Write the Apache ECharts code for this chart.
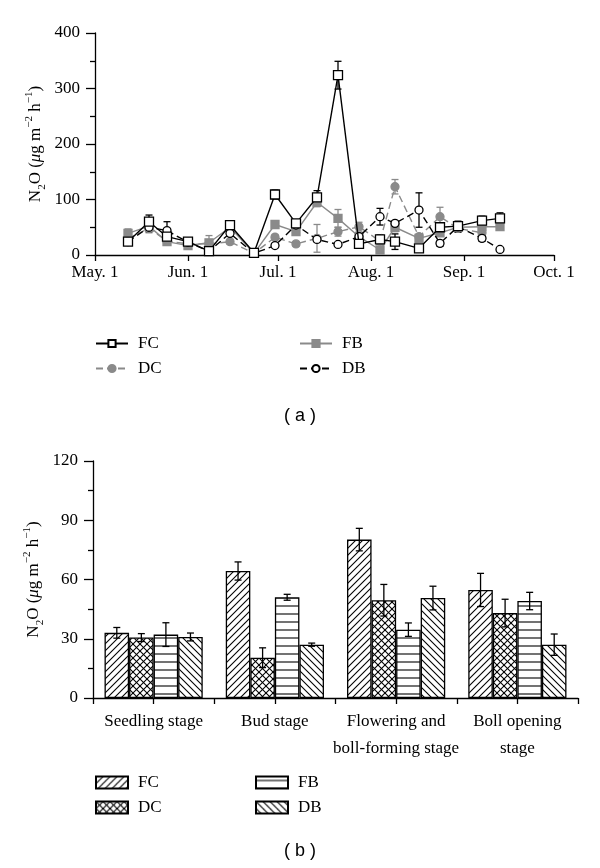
<!DOCTYPE html>
<html><head><meta charset="utf-8">
<script src="https://cdn.jsdelivr.net/npm/echarts@6/dist/echarts.min.js"></script>
<style>html,body{margin:0;padding:0;background:#fff;}#a{position:absolute;left:0;top:0;width:600px;height:434px;}#b{position:absolute;left:0;top:434px;width:600px;height:434px;}</style>
</head><body><div id="a"></div><div id="b"></div>
<script>
// ---------- data (a) ----------
const dates = ['2012-05-12','2012-05-19','2012-05-25','2012-06-01','2012-06-08','2012-06-15','2012-06-23','2012-06-30','2012-07-07','2012-07-14','2012-07-21','2012-07-28','2012-08-04','2012-08-09','2012-08-17','2012-08-24','2012-08-30','2012-09-07','2012-09-13'];
const FC = [24,60,33,24,7,54,4,109,57,104,324,20,28,24,12,50,52,62,66];
const FC_err = [5,12,6,3,3,5,2,8,5,12,25,5,8,14,4,6,8,8,10];
const FB = [39,52,24,17,22,50,3,55,42,95,66,33,9,50,30,40,50,51,51];
const FB_err = [8,5,4,3,5,5,2,5,5,8,16,5,5,8,4,6,5,4,4];
const DC = [30,48,25,20,20,24,3,32,20,30,42,51,25,123,33,69,48,40,null];
const DC_err = [6,8,5,4,15,4,2,5,4,25,8,8,5,13,5,17,6,5,null];
const DB = [24,50,44,23,7,39,3,17,54,28,19,33,69,57,81,21,51,30,10];
const DB_err = [4,8,16,4,3,5,2,3,5,4,3,4,15,5,31,5,10,5,3];
const monthTicks = ['2012-05-01','2012-06-01','2012-07-01','2012-08-01','2012-09-01','2012-10-01'];
const monthLabels = ['May. 1','Jun. 1','Jul. 1','Aug. 1','Sep. 1','Oct. 1'];
const yTicksA = [0,100,200,300,400];
// ---------- data (b) ----------
const stages = ['Seedling stage','Bud stage','Flowering and\nboll-forming stage','Boll opening\nstage'];
const bFC = [33,64.3,80.2,54.7];
const bFC_err = [2.7,4.6,5.7,8.4];
const bDC = [30.6,20.4,49.5,43];
const bDC_err = [2,5,8,7];
const bFB = [32.1,51,34.6,49.1];
const bFB_err = [6,1.5,3.4,4.4];
const bDB = [30.9,27,50.6,27];
const bDB_err = [2,0.8,6,5.4];
const yTicksB = [0,30,60,90,120];

const SERIF = "'Liberation Serif','DejaVu Serif',serif";
const SANS = "'Liberation Sans','DejaVu Sans',sans-serif";
const GRAY = '#8a8a8a';
// day number counted from the first month tick (May 1)
function dayOf(d){const p=d.split('-');const t=Date.UTC(+p[0],+p[1]-1,+p[2]);const q=monthTicks[0].split('-');return Math.round((t-Date.UTC(+q[0],+q[1]-1,+q[2]))/86400000);}
const tickDays = monthTicks.map(dayOf);

const yName = '{t|N}{sub|2}{t|O (}{i|μ}{t|g m}{sup|−2}{t| h}{sup|−1}{t|)}';
const yNameRich = {
  t:{fontFamily:SERIF,fontSize:17,color:'#000',lineHeight:24},
  i:{fontFamily:SERIF,fontSize:17,fontStyle:'italic',color:'#000',lineHeight:24},
  sub:{fontFamily:SERIF,fontSize:11,color:'#000',lineHeight:18,verticalAlign:'bottom'},
  sup:{fontFamily:SERIF,fontSize:11,color:'#000',lineHeight:14,verticalAlign:'top'}
};

// ---------- chart (a) ----------
const chA = echarts.init(document.getElementById('a'),null,{renderer:'canvas'});
function errSeriesX(name, vals, errs, color){
  const data = dates.map((d,i)=> vals[i]==null?null:[dayOf(d), vals[i], errs[i]]).filter(x=>x);
  return {
    type:'custom', name:name, data:data, z:1,
    encode:{x:0,y:[1]},
    renderItem:function(params, api){
      const x = api.value(0), v = api.value(1), e = api.value(2);
      const top = api.coord([x, v+e]), bot = api.coord([x, Math.max(0,v-e)]);
      const w = 3.5;
      const st = {stroke:color, lineWidth:1.3};
      return {type:'group', children:[
        {type:'line', shape:{x1:top[0],y1:top[1],x2:bot[0],y2:bot[1]}, style:st},
        {type:'line', shape:{x1:top[0]-w,y1:top[1],x2:top[0]+w,y2:top[1]}, style:st},
        {type:'line', shape:{x1:bot[0]-w,y1:bot[1],x2:bot[0]+w,y2:bot[1]}, style:st}
      ]};
    }
  };
}
function lineSeries(name, vals, color, dashed, symbol, fill, size, z){
  return {
    type:'line', name:name, z:z,
    data: dates.map((d,i)=> vals[i]==null?null:[dayOf(d), vals[i]]).filter(x=>x),
    symbol:symbol, symbolSize:size, showSymbol:true,
    lineStyle:{color:color, width:1.4, type: dashed?[7,4]:'solid'},
    itemStyle:{color:fill, borderColor:color, borderWidth:1.3},
    emphasis:{disabled:true}
  };
}
const legendText = {fontFamily:SERIF, fontSize:17, color:'#000', padding:[0,0,0,5]};
chA.setOption({
  animation:false,
  grid:{left:95, right:46, top:33, bottom:179, containLabel:false},
  xAxis:{type:'value', min:tickDays[0], max:tickDays[tickDays.length-1],
    axisLine:{lineStyle:{color:'#000',width:1.3}},
    axisTick:{show:true, inside:false, length:6, lineStyle:{color:'#000',width:1.3}, customValues: tickDays},
    axisLabel:{fontFamily:SERIF, fontSize:17, color:'#000', margin:9, customValues: tickDays,
      formatter:function(v){const i = tickDays.indexOf(v); return i>=0?monthLabels[i]:'';}},
    splitLine:{show:false}},
  yAxis:{type:'value', min:yTicksA[0], max:yTicksA[yTicksA.length-1], interval:100,
    axisLine:{show:true, lineStyle:{color:'#000',width:1.3}},
    axisTick:{show:true, length:9, lineStyle:{color:'#000',width:1.3}},
    minorTick:{show:true, splitNumber:2, length:5, lineStyle:{color:'#000',width:1.3}},
    axisLabel:{fontFamily:SERIF, fontSize:17, color:'#000', margin:15},
    splitLine:{show:false},
    name:yName, nameLocation:'middle', nameGap:47, nameRotate:90, nameMoveOverlap:false,
    nameTextStyle:{rich:yNameRich}},
  legend:[
    {data:['FC','DC'], orient:'vertical', left:90, top:330, itemWidth:32, itemHeight:9, itemGap:8, textStyle:legendText, selectedMode:false},
    {data:['FB','DB'], orient:'vertical', left:294, top:330, itemWidth:32, itemHeight:9, itemGap:8, textStyle:legendText, selectedMode:false}
  ],
  title:{text:'( a )', left:'center', top:407, textStyle:{fontFamily:SANS, fontSize:18, fontWeight:'normal', color:'#000'}, padding:0},
  series:[
    errSeriesX('DCe', DC, DC_err, GRAY),
    errSeriesX('FBe', FB, FB_err, GRAY),
    errSeriesX('DBe', DB, DB_err, '#000'),
    errSeriesX('FCe', FC, FC_err, '#000'),
    lineSeries('DC', DC, GRAY, true, 'circle', GRAY, 8, 2),
    lineSeries('FB', FB, GRAY, false, 'rect', GRAY, 8, 3),
    lineSeries('DB', DB, '#000', true, 'circle', '#fff', 8, 4),
    lineSeries('FC', FC, '#000', false, 'rect', '#fff', 9, 5)
  ]
});

// ---------- patterns ----------
function pattern(kind){
  const s = kind==='h' ? 8 : 7;
  const c = document.createElement('canvas'); c.width=s; c.height=s;
  const g = c.getContext('2d');
  g.fillStyle='#fff'; g.fillRect(0,0,s,s);
  g.strokeStyle='#000'; g.lineWidth=1.1;
  function ln(x1,y1,x2,y2){g.beginPath();g.moveTo(x1,y1);g.lineTo(x2,y2);g.stroke();}
  if(kind==='/'||kind==='x'){ ln(-1,s+1,s+1,-1); ln(-1,1,1,-1); ln(s-1,s+1,s+1,s-1); }
  if(kind==='\\'||kind==='x'){ ln(-1,-1,s+1,s+1); ln(s-1,-1,s+1,1); ln(-1,s-1,1,s+1); }
  if(kind==='h'){ ln(0,s/2,s,s/2); }
  return {image:c, repeat:'repeat'};
}

// ---------- chart (b) ----------
const chB = echarts.init(document.getElementById('b'),null,{renderer:'canvas'});
const GAPB = 0.19;
function barSeries(name, vals, kind){
  return {type:'bar', name:name, data:vals, barGap:'0%', barCategoryGap:(GAPB*100)+'%', z:2,
    itemStyle:{color:pattern(kind), borderColor:'#000', borderWidth:1.3},
    emphasis:{disabled:true}};
}
function errSeriesBar(name, vals, errs, idx){
  return {type:'custom', name:name, z:3, xAxisIndex:0, yAxisIndex:0,
    data: vals.map((v,i)=>[i, v, errs[i]]),
    encode:{x:0,y:[1]},
    renderItem:function(params, api){
      const i = api.value(0), v = api.value(1), e = api.value(2);
      const catW = api.size([1,0])[0];
      const bw = catW*(1-GAPB)/4;
      const off = (idx-1.5)*bw;
      const top = api.coord([i, v+e]), bot = api.coord([i, v-e]);
      const x = top[0]+off, w = 3.5;
      const st = {stroke:'#000', lineWidth:1.3};
      return {type:'group', children:[
        {type:'line', shape:{x1:x,y1:top[1],x2:x,y2:bot[1]}, style:st},
        {type:'line', shape:{x1:x-w,y1:top[1],x2:x+w,y2:top[1]}, style:st},
        {type:'line', shape:{x1:x-w,y1:bot[1],x2:x+w,y2:bot[1]}, style:st}
      ]};
    }};
}
chB.setOption({
  animation:false,
  grid:{left:93, right:22, top:27, bottom:170, containLabel:false},
  xAxis:[
    {type:'category', data:stages,
      axisLine:{lineStyle:{color:'#000',width:1.3}},
      axisTick:{show:false},
      axisLabel:{interval:0, fontFamily:SERIF, fontSize:17, color:'#000', margin:10, lineHeight:27}},
    {type:'value', min:0, max:8, interval:1, position:'bottom',
      axisLine:{show:false}, axisLabel:{show:false}, splitLine:{show:false},
      axisTick:{show:true, length:6, lineStyle:{color:'#000',width:1.3}}}
  ],
  yAxis:{type:'value', min:yTicksB[0], max:yTicksB[yTicksB.length-1], interval:30,
    axisLine:{show:true, lineStyle:{color:'#000',width:1.3}},
    axisTick:{show:true, length:9, lineStyle:{color:'#000',width:1.3}},
    minorTick:{show:true, splitNumber:2, length:5, lineStyle:{color:'#000',width:1.3}},
    axisLabel:{fontFamily:SERIF, fontSize:17, color:'#000', margin:15},
    splitLine:{show:false},
    name:yName, nameLocation:'middle', nameGap:47, nameRotate:90, nameMoveOverlap:false,
    nameTextStyle:{rich:yNameRich}},
  legend:[
    {data:['FC','DC'], orient:'vertical', left:90, top:335, icon:'rect', itemWidth:32, itemHeight:12, itemGap:8, textStyle:legendText, selectedMode:false},
    {data:['FB','DB'], orient:'vertical', left:250, top:335, icon:'rect', itemWidth:32, itemHeight:12, itemGap:8, textStyle:legendText, selectedMode:false}
  ],
  title:{text:'( b )', left:'center', top:408, textStyle:{fontFamily:SANS, fontSize:18, fontWeight:'normal', color:'#000'}, padding:0},
  series:[
    barSeries('FC', bFC, '/'),
    barSeries('DC', bDC, 'x'),
    barSeries('FB', bFB, 'h'),
    barSeries('DB', bDB, '\\'),
    errSeriesBar('FCe', bFC, bFC_err, 0),
    errSeriesBar('DCe', bDC, bDC_err, 1),
    errSeriesBar('FBe', bFB, bFB_err, 2),
    errSeriesBar('DBe', bDB, bDB_err, 3)
  ]
});
</script></body></html>
